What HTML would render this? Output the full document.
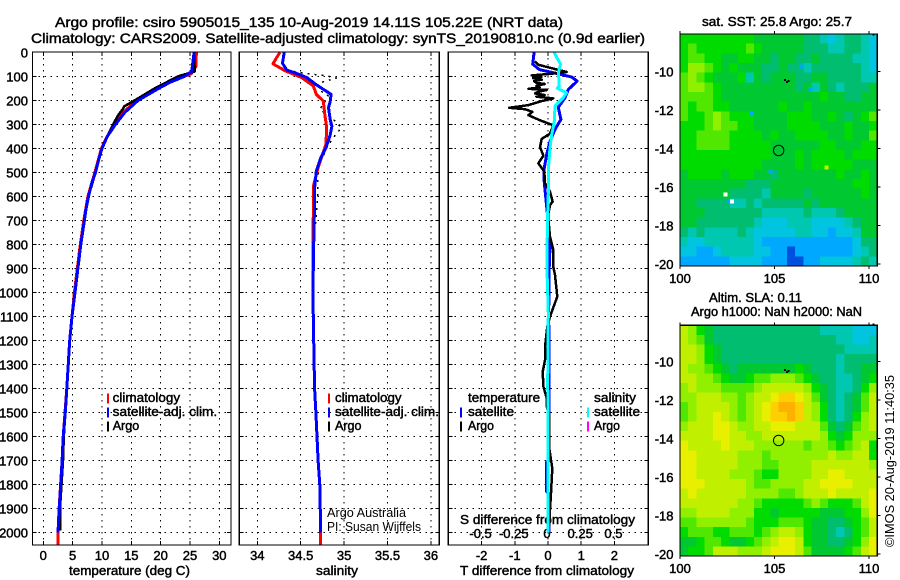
<!DOCTYPE html>
<html lang="en">
<head>
<meta charset="utf-8">
<title>Argo profile csiro 5905015_135</title>
<style>
html,body{margin:0;padding:0;background:#fff;}
svg{display:block;}
text{font-family:"Liberation Sans",sans-serif;font-size:13px;fill:#000;stroke:#000;stroke-width:.45px;}
text.thin{stroke:none;}
text.big{font-size:14px;}
</style>
</head>
<body>
<svg id="chart" width="900" height="580" viewBox="0 0 900 580" xmlns="http://www.w3.org/2000/svg">
<rect width="900" height="580" fill="#fff"/>
<text class="big" x="55" y="27" textLength="508" lengthAdjust="spacingAndGlyphs">Argo profile: csiro 5905015_135 10-Aug-2019 14.11S 105.22E (NRT data)</text>
<text class="big" x="31" y="43" textLength="614" lengthAdjust="spacingAndGlyphs">Climatology: CARS2009. Satellite-adjusted climatology: synTS_20190810.nc (0.9d earlier)</text>
<text x="702" y="26" textLength="150" lengthAdjust="spacingAndGlyphs">sat. SST: 25.8 Argo: 25.7</text>
<text x="709" y="302" textLength="93" lengthAdjust="spacingAndGlyphs">Altim. SLA: 0.11</text>
<text x="691" y="316" textLength="171" lengthAdjust="spacingAndGlyphs">Argo h1000: NaN h2000: NaN</text>
<text transform="translate(894,547) rotate(-90)" textLength="172" lengthAdjust="spacingAndGlyphs" class="thin">©IMOS 20-Aug-2019 11:40:35</text>
<text x="69" y="575" textLength="121" lengthAdjust="spacingAndGlyphs">temperature (deg C)</text>
<text x="316" y="575" textLength="42" lengthAdjust="spacingAndGlyphs">salinity</text>
<text x="460" y="575" textLength="174" lengthAdjust="spacingAndGlyphs">T difference from climatology</text>
<text x="460" y="524" textLength="175" lengthAdjust="spacingAndGlyphs">S difference from climatology</text>
<g id="plots"></g>
<g id="maps"></g>
<g id="legends"></g>
<text x="327" y="517" textLength="79" lengthAdjust="spacingAndGlyphs" class="thin">Argo Australia</text>
<text x="327" y="531" textLength="94" lengthAdjust="spacingAndGlyphs" class="thin">PI: Susan Wijffels</text>
</svg>
<script>
/* ---- axis tick values ---- */
const depthTicks = [0,100,200,300,400,500,600,700,800,900,1000,1100,1200,1300,1400,1500,1600,1700,1800,1900,2000];
const tempTicks = [0,5,10,15,20,25,30];
const salTicks = [34,34.5,35,35.5,36];
const salTickLabels = ['34','34.5','35','35.5','36'];
const dTempTicks = [-2,-1,0,1,2];
const dSalTicks = [-0.5,-0.25,0,0.25,0.5];
const dSalTickLabels = ['-0.5','-0.25','0','0.25','0.5'];
const lonTicks = [100,105,110];
const latTicks = [-10,-12,-14,-16,-18,-20];

/* ---- temperature profiles ---- */
const climTempDepth = [0,60,90,100,125,150,200,250,300,350,400,500,600,700,800,900,1000,1100,1200,1400,1500,1600,1700,1800,1900,2000,2050];
const climTemp = [26.1,26.0,25.2,24.0,21.4,19.5,16.0,13.6,12.1,10.9,9.9,8.8,7.6,6.9,6.3,5.8,5.3,4.9,4.5,4.0,3.7,3.4,3.2,2.95,2.7,2.5,2.5];
const argoTempDepth = [0,80,100,125,150,175,200,225,235,260,300,350,400,500,600,700,800,900,1000,1100,1200,1400,1500,1600,1700,1800,1900,1990];
const argoTemp = [25.7,25.8,23.0,21.0,19.0,17.3,15.6,13.8,13.6,12.8,11.9,10.9,10.0,8.9,7.7,7.0,6.4,5.9,5.4,4.9,4.5,4.0,3.75,3.5,3.35,3.1,2.85,2.85];
const satTempDepth = [0,80,100,125,150,200,250,300,350,400,450,500,550,600,650,700,800,900,1000,1100,1200,1400,1500,1600,1700,1800,1900,2000];
const satTemp = [25.7,25.3,24.1,21.6,19.7,16.2,13.9,12.3,10.9,10.0,9.4,8.9,8.2,7.7,7.3,7.0,6.4,5.9,5.4,4.9,4.5,4.0,3.75,3.4,3.2,2.97,2.73,2.5];

/* ---- salinity profiles ---- */
const climSalDepth = [0,48,77,105,140,175,203,265,313,384,426,481,551,800,1000,1200,1400,1500,1700,1800,2000,2050];
const climSal = [34.26,34.18,34.32,34.51,34.645,34.68,34.76,34.78,34.80,34.79,34.75,34.70,34.65,34.64,34.64,34.65,34.66,34.675,34.70,34.72,34.73,34.73];
const argoSalDepth = [74,87,97,107,125,154,182,237,286,313,355,398,481,610,800,1000,1400,1700,2000];
const argoSal = [34.34,34.53,34.78,34.91,34.74,34.70,34.82,34.72,34.895,34.97,34.875,34.80,34.70,34.695,34.65,34.64,34.66,34.70,34.73];
const satSalDepth = [0,46,74,85,105,133,154,175,205,230,280,308,343,398,440,495,565,620,800,1000,1200,1400,1500,1700,1800,2000];
const satSal = [34.31,34.29,34.34,34.43,34.57,34.67,34.76,34.85,34.84,34.82,34.84,34.86,34.84,34.79,34.73,34.68,34.66,34.66,34.65,34.64,34.65,34.66,34.675,34.70,34.72,34.73];

/* ---- difference profiles ---- */
const satDiffTDepth = [0,49,72,85,103,120,155,190,229,280,321,370,425,481,503,545,601,615,711,809,920,1087,1350,1500,1700,1705,1830,1835,2000];
const satDiffT = [-0.42,-0.46,-0.26,0.16,0.71,0.88,0.61,0.51,0.31,0.39,0.21,0.06,-0.04,-0.11,-0.12,-0.11,-0.07,-0.06,0.01,0.06,0.03,0.02,0.03,0.03,0.03,-0.04,-0.04,0.03,0.03];
const argoDiffTDepth = [38,52,68,82,90,96,103,108,114,120,128,132,140,147,152,157,165,171,178,185,192,203,220,231,237,248,262,283,304,339,360,395,430,462,497,545,580,607,622,636,680,767,823,893,927,1017,1100,1142,1226,1281,1330,1392,1440,1475,1505,1642,1732,1836,1973];
const argoDiffT = [-0.4,-0.29,0.16,0.56,0.06,-0.49,-0.2,-0.45,-0.19,-0.42,-0.34,-0.1,-0.35,-0.25,-0.59,-0.04,-0.3,-0.39,-0.1,-0.35,0.16,-0.19,-0.59,-1.17,-0.69,-0.47,-0.59,-0.24,0.16,0.06,-0.19,-0.24,-0.14,-0.29,-0.11,-0.09,0.06,0.11,0.14,0.06,0.0,0.06,0.16,0.16,0.21,0.28,0.06,-0.02,-0.09,-0.09,-0.16,-0.14,-0.04,-0.04,0.03,0.03,0.13,0.09,0.03];
const satDiffSDepth = [0,21,49,85,141,150,168,189,224,293,342,398,467,530,669,809,920,1087,1365,1600,2000];
const satDiffS = [0.047,0.065,0.095,0.078,0.085,0.07,0.14,0.115,0.053,0.047,0.028,0.015,0.005,0.005,-0.002,-0.007,-0.007,0.002,-0.002,0,0];

/* ---- map colour levels, low (blue) to high (orange) ---- */
const levelColors = ['#0050e0','#00a8ff','#00c4e0','#00c8b0','#00bd70','#00c830','#00dc00','#50e800','#90f000','#c0f000','#e8f000','#ffd000','#ffb000'];

/* ---- satellite SST colour level, rows north to south, columns west to east ---- */
const sstLevels = [
[6,6,6,6,6,6,6,6,6,5,5,5,5,5,5,4,4,3,2,3,4,4,3,2],
[6,7,6,6,6,6,6,6,7,6,5,5,5,5,5,4,4,4,3,3,4,4,3,2],
[6,7,7,6,6,5,5,6,6,5,5,4,5,5,4,4,5,4,4,4,4,3,3,2],
[6,8,8,7,6,5,6,5,5,5,4,4,5,4,4,3,4,4,4,4,4,4,3,2],
[7,8,7,6,5,5,5,6,3,5,4,5,5,5,4,4,5,5,4,4,4,4,3,3],
[7,8,8,7,6,5,5,5,5,5,5,5,5,5,4,5,3,5,4,3,4,4,4,5],
[7,7,7,7,6,5,5,5,5,5,5,5,5,5,5,5,5,6,5,5,4,4,5,5],
[7,6,7,7,6,6,5,5,5,5,5,5,6,5,5,6,5,5,5,5,5,5,5,5],
[7,6,6,7,8,7,6,6,6,5,5,5,5,6,6,6,5,5,6,5,4,5,6,7],
[6,6,6,7,8,7,7,6,6,5,5,5,5,6,6,6,6,5,5,5,6,5,5,6],
[6,6,7,7,7,7,6,6,6,6,5,6,5,5,6,6,6,6,5,5,6,5,5,7],
[6,6,7,7,7,7,6,6,6,6,6,5,5,5,5,5,5,6,6,5,5,5,6,6],
[6,6,6,6,6,6,6,6,6,6,6,5,5,5,6,5,6,6,6,6,5,6,6,6],
[6,6,6,6,6,6,6,6,6,6,5,5,5,5,6,5,6,6,6,6,6,5,5,5],
[5,6,6,6,6,5,6,6,6,5,5,4,5,5,5,5,5,5,5,6,5,5,6,5],
[5,5,5,5,5,5,5,5,4,4,4,5,5,5,5,5,5,5,5,5,5,6,6,5],
[5,5,5,5,5,5,4,4,4,4,3,5,5,5,5,4,5,5,5,5,5,5,6,5],
[5,5,4,4,4,4,3,3,4,3,4,4,4,4,4,5,4,5,5,5,5,5,5,5],
[5,5,5,4,4,4,4,4,4,4,3,3,3,3,3,4,3,3,3,4,5,5,5,5],
[5,5,4,4,4,4,4,4,4,3,2,2,2,3,3,3,2,2,2,2,3,4,5,5],
[4,3,4,3,3,3,3,4,3,2,2,2,2,2,3,3,2,2,1,2,2,3,5,5],
[3,2,2,3,3,3,3,3,3,2,1,1,1,1,1,1,1,1,1,1,1,2,4,4],
[2,2,1,1,2,3,3,3,3,2,2,1,1,0,1,1,1,1,1,1,1,2,3,4],
[1,1,1,1,1,1,2,2,2,2,1,1,1,0,0,1,1,2,2,2,2,3,4,3]
];
const sstSpeckLon = [106.4,103.8,106.9,107.76,104.8,102.6];
const sstSpeckLat = [-9.76,-12.18,-10.93,-15.0,-15.19,-16.75];
const sstSpeckLevel = [1,1,1,9,1,1];
const missingLon = [102.4,102.75];
const missingLat = [-16.4,-16.75];

/* ---- altimeter SLA colour level, rows north to south, columns west to east ---- */
const slaLevels = [
[9,8,6,5,4,4,4,4,4,4,4,4,4,4,4,4,4,3,3,3,3,2,2,2],
[9,8,7,5,4,4,4,4,4,4,4,4,4,4,4,4,4,4,4,3,3,2,2,3],
[9,9,8,6,5,4,4,4,4,4,4,4,4,4,4,4,4,4,4,4,3,3,3,3],
[9,9,8,6,5,4,4,4,4,4,4,4,4,4,4,4,4,4,4,3,4,4,4,4],
[9,8,8,7,6,5,4,5,5,5,5,5,5,5,6,5,4,4,4,3,4,4,5,5],
[9,9,8,8,7,6,5,5,6,7,7,8,8,8,7,6,5,4,4,3,3,4,5,6],
[8,9,8,8,8,7,7,7,7,8,9,9,9,9,9,8,6,5,4,3,3,4,6,8],
[8,8,9,9,9,8,8,7,8,9,9,10,11,11,10,9,7,5,4,3,4,5,7,9],
[7,8,9,9,9,9,8,7,8,9,10,11,12,12,11,9,8,6,4,3,4,5,7,9],
[7,8,9,9,10,9,8,7,8,9,10,11,11,12,11,9,8,6,4,3,4,6,8,9],
[8,9,9,9,10,10,9,8,8,9,9,10,10,10,9,9,9,7,5,4,5,7,8,9],
[9,9,9,9,10,10,9,9,8,8,9,9,9,9,9,9,9,8,6,5,6,8,8,8],
[10,9,9,9,9,10,9,9,9,8,8,8,8,8,8,7,8,8,7,6,7,8,9,6],
[10,10,9,9,9,9,9,8,8,8,7,8,8,8,8,8,8,8,9,8,8,9,9,6],
[10,10,9,9,9,9,9,8,8,8,7,7,8,8,8,8,9,9,9,9,9,9,9,8],
[10,10,9,9,9,9,8,8,8,7,6,6,8,8,8,8,9,9,10,10,9,9,9,9],
[10,10,10,9,9,9,9,9,8,7,7,8,8,8,8,9,9,10,10,10,10,9,9,9],
[9,10,9,9,9,9,9,9,8,8,8,8,7,7,8,9,9,9,10,9,9,9,9,10],
[9,9,9,9,9,9,9,8,8,7,6,6,6,6,6,7,8,7,6,6,6,7,9,10],
[8,8,9,9,9,9,8,8,8,6,6,5,6,6,6,6,6,5,5,5,6,6,8,10],
[7,7,8,8,8,8,8,8,7,6,6,6,7,7,7,6,5,5,4,4,5,6,7,9],
[6,7,7,7,6,6,7,7,7,6,7,8,9,9,8,6,5,5,4,3,4,6,7,9],
[5,5,6,7,7,6,5,5,6,7,8,9,10,10,9,6,5,5,4,4,5,6,8,10],
[5,6,6,7,9,9,9,8,8,8,9,10,10,10,9,7,5,5,5,5,6,7,9,10]
];
const floatLon = 105.22;
const floatLat = -14.11;
const islandLon = [105.55,105.65,105.75,110.25];
const islandLat = [-10.45,-10.55,-10.5,-8.1];

/* ---- scales ---- */
const NS = 'http://www.w3.org/2000/svg';
const plots = document.getElementById('plots');
const maps = document.getElementById('maps');
const legends = document.getElementById('legends');
const depthToY = d => 52.3 + 0.2402 * d;
const tempToX = t => 43.3 + 5.867 * t;
const salToX = s => 257.3 + 86.8 * (s - 34);
const dTempToX = t => 548 + 33.2 * t;
const dSalToX = s => 548 + 132.8 * s;
const PANEL_TOP = 52, PANEL_BOTTOM = 545;
const DOTS = '1.5 4.5';

function make(parent, tag, attrs, name, text) {
  const el = document.createElementNS(NS, tag);
  for (const k in attrs) el.setAttribute(k, attrs[k]);
  
  
  if (text !== undefined) el.textContent = text;
  parent.appendChild(el);
  return el;
}
function segment(parent, x1, y1, x2, y2, name, extra) {
  return make(parent, 'line', Object.assign({x1, y1, x2, y2, stroke:'#000', 'stroke-width':1, 'shape-rendering':'crispEdges'}, extra || {}), name);
}
function drawPanel(key, left, right, xScale, xTicks, xLabels, showDepthLabels) {
  const g = make(plots, 'g', {}, key + '-panel');
  depthTicks.forEach(d => {
    const y = depthToY(d);
    if (d > 0) {
      segment(g, left, y, right, y, key + '-grid-depth-' + d, {'stroke-dasharray':DOTS});
      segment(g, left, y, left + 4, y, key + '-tick-left-' + d);
      segment(g, right - 4, y, right, y, key + '-tick-right-' + d);
    }
    if (showDepthLabels) {
      make(g, 'text', {x:28, y:y + 5, 'text-anchor':'end'}, 'depth-label-' + d, String(d));
    }
  });
  xTicks.forEach((v, i) => {
    const x = xScale(v);
    segment(g, x, PANEL_TOP, x, PANEL_BOTTOM, key + '-grid-x-' + i, {'stroke-dasharray':DOTS});
    segment(g, x, PANEL_BOTTOM - 4, x, PANEL_BOTTOM, key + '-tick-bottom-' + i);
    segment(g, x, PANEL_TOP, x, PANEL_TOP + 4, key + '-tick-top-' + i);
    make(g, 'text', {x:x, y:560, 'text-anchor':'middle'}, key + '-x-label-' + i, xLabels[i]);
  });
  return g;
}
function frame(g, left, right, key) {
  make(g, 'rect', {x:left, y:PANEL_TOP, width:right-left, height:PANEL_BOTTOM-PANEL_TOP, fill:'none', stroke:'#000', 'stroke-width':1.2, 'shape-rendering':'crispEdges'}, key + '-frame');
}
function profile(g, depths, values, xScale, color, width, name, dash) {
  const pts = depths.map((d, i) => xScale(values[i]).toFixed(1) + ',' + depthToY(d).toFixed(1)).join(' ');
  const attrs = {points:pts, fill:'none', stroke:color, 'stroke-width':width, 'shape-rendering':'crispEdges', 'stroke-linejoin':'round'};
  if (dash) attrs['stroke-dasharray'] = dash;
  return make(g, 'polyline', attrs, name);
}

/* ---- profile panels ---- */
const tempPanel = drawPanel('temperature', 32.5, 231, tempToX, tempTicks, tempTicks.map(String), true);
profile(tempPanel, climTempDepth, climTemp, tempToX, '#ff0000', 3, 'temperature-climatology-line');
profile(tempPanel, argoTempDepth, argoTemp, tempToX, '#000000', 2.5, 'temperature-argo-line');
profile(tempPanel, satTempDepth, satTemp, tempToX, '#0000ff', 3, 'temperature-satellite-line');
frame(tempPanel, 32.5, 231, 'temperature');

const salPanel = drawPanel('salinity', 239.3, 439.3, salToX, salTicks, salTickLabels, false);
profile(salPanel, argoSalDepth, argoSal, salToX, '#000000', 1.5, 'salinity-argo-line', '2 5');
profile(salPanel, climSalDepth, climSal, salToX, '#ff0000', 3, 'salinity-climatology-line');
profile(salPanel, satSalDepth, satSal, salToX, '#0000ff', 3, 'salinity-satellite-line');
frame(salPanel, 239.3, 439.3, 'salinity');

const diffPanel = drawPanel('difference', 448.3, 648.3, dTempToX, dTempTicks, dTempTicks.map(String), false);
dSalTicks.forEach((v, i) => {
  make(diffPanel, 'text', {x:dSalToX(v) - 1, y:538, 'text-anchor':'middle'}, 's-difference-label-' + i, dSalTickLabels[i]);
});
profile(diffPanel, satDiffTDepth, satDiffT, dTempToX, '#0000ff', 3, 'difference-temperature-satellite-line');
profile(diffPanel, argoDiffTDepth, argoDiffT, dTempToX, '#000000', 2.5, 'difference-temperature-argo-line');
profile(diffPanel, satDiffSDepth, satDiffS, dSalToX, '#00ffff', 3, 'difference-salinity-satellite-line');
frame(diffPanel, 448.3, 648.3, 'difference');

/* ---- maps ---- */
function drawMap(key, levels, top, bottom, lat10Y, labelY) {
  const left = 680, right = 877.3;
  const lonToX = lon => 680 + 18.9 * (lon - 100);
  const latToY = lat => lat10Y + 19.26 * (-10 - lat);
  const g = make(maps, 'g', {}, key + '-map');
  const rows = levels.length, cols = levels[0].length;
  const lonStep = (right - left) / 18.9 / cols;
  const latNorth = -10 + (lat10Y - top) / 19.26;
  const latStep = (bottom - top) / 19.26 / rows;
  levels.forEach((row, r) => {
    row.forEach((lvl, c) => {
      const x = lonToX(100 + c * lonStep), y = latToY(latNorth - r * latStep);
      const x2 = lonToX(100 + (c + 1) * lonStep), y2 = latToY(latNorth - (r + 1) * latStep);
      make(g, 'rect', {x:x, y:y, width:x2 - x + .5, height:y2 - y + .5, fill:levelColors[lvl], 'shape-rendering':'crispEdges'}, key + '-cell');
    });
  });
  if (key === 'sst') {
    sstSpeckLon.forEach((lon, i) => {
      make(g, 'rect', {x:lonToX(lon) - 2, y:latToY(sstSpeckLat[i]) - 2, width:4, height:4, fill:levelColors[sstSpeckLevel[i]], 'shape-rendering':'crispEdges'}, 'sst-speck');
    });
    missingLon.forEach((lon, i) => {
      make(g, 'rect', {x:lonToX(lon) - 2, y:latToY(missingLat[i]) - 2, width:4, height:4, fill:'#ffffff', 'shape-rendering':'crispEdges'}, 'sst-missing-cell');
    });
  }
  islandLon.forEach((lon, i) => {
    make(g, 'rect', {x:lonToX(lon) - 1, y:latToY(islandLat[i]) - 1, width:2, height:2, fill:'#000', 'shape-rendering':'crispEdges'}, key + '-island');
  });
  make(g, 'circle', {cx:lonToX(floatLon), cy:latToY(floatLat), r:5.2, fill:'none', stroke:'#000', 'stroke-width':1}, key + '-float-position');
  make(g, 'rect', {x:left, y:top, width:right-left, height:bottom-top, fill:'none', stroke:'#000', 'stroke-width':1.2, 'shape-rendering':'crispEdges'}, key + '-frame');
  lonTicks.forEach(lon => {
    const x = lonToX(lon);
    segment(g, x, top - 3, x, top, key + '-tick-top-' + lon);
    segment(g, x, bottom, x, bottom + 3, key + '-tick-bottom-' + lon);
    make(g, 'text', {x:x, y:labelY, 'text-anchor':'middle'}, key + '-lon-label-' + lon, String(lon));
  });
  latTicks.forEach(lat => {
    const y = latToY(lat);
    segment(g, right, y, right + 3, y, key + '-tick-right-' + lat);
    make(g, 'text', {x:673.5, y:y + 5, 'text-anchor':'end'}, key + '-lat-label-' + lat, String(lat));
  });
}
drawMap('sst', sstLevels, 34, 266, 71.3, 283);
drawMap('sla', slaLevels, 325.3, 556, 361.3, 573);

/* ---- legends ---- */
function legendEntry(markX, textX, baseline, color, label, width, name) {
  const g = make(legends, 'g', {}, name);
  make(g, 'rect', {x:markX - 1, y:baseline - 8.5, width:2, height:10, fill:color, 'shape-rendering':'crispEdges'}, name + '-swatch');
  make(g, 'text', {x:textX, y:baseline, textLength:width, lengthAdjust:'spacingAndGlyphs'}, name + '-label', label);
}
legendEntry(108, 112.7, 402, '#ff0000', 'climatology', 67.5, 'temperature-legend-climatology');
legendEntry(108, 112.7, 416, '#0000ff', 'satellite-adj. clim.', 104.5, 'temperature-legend-satellite');
legendEntry(108, 112.7, 430, '#000000', 'Argo', 26.5, 'temperature-legend-argo');
legendEntry(329, 335, 402, '#ff0000', 'climatology', 66.5, 'salinity-legend-climatology');
legendEntry(329, 335, 416, '#0000ff', 'satellite-adj. clim.', 104, 'salinity-legend-satellite');
legendEntry(329, 335, 430, '#000000', 'Argo', 26.5, 'salinity-legend-argo');
legendEntry(461, 468, 416, '#0000ff', 'satellite', 46, 'difference-legend-temperature-satellite');
legendEntry(461, 468, 430, '#000000', 'Argo', 26, 'difference-legend-temperature-argo');
legendEntry(588, 594, 416, '#00ffff', 'satellite', 46, 'difference-legend-salinity-satellite');
legendEntry(588, 594, 430, '#ff00ff', 'Argo', 26, 'difference-legend-salinity-argo');
make(legends, 'text', {x:468, y:402, textLength:72, lengthAdjust:'spacingAndGlyphs'}, 'difference-legend-temperature-heading', 'temperature');
make(legends, 'text', {x:594, y:402, textLength:42, lengthAdjust:'spacingAndGlyphs'}, 'difference-legend-salinity-heading', 'salinity');
</script>
</body>
</html>
